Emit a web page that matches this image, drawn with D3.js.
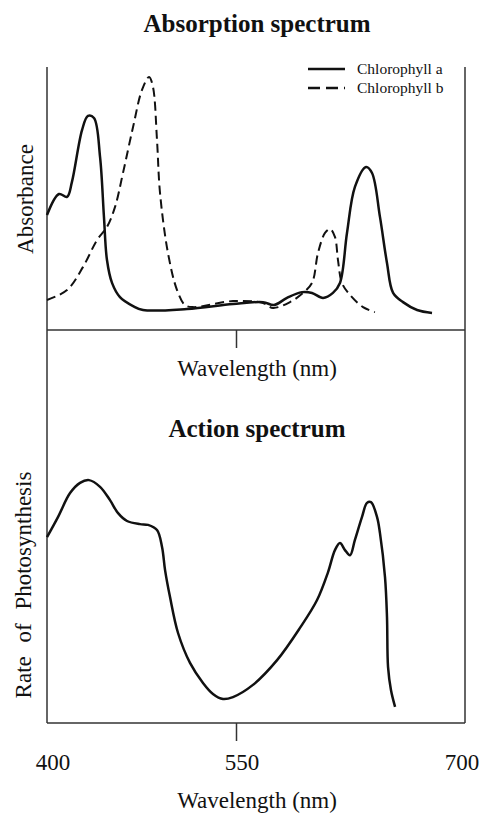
<!DOCTYPE html>
<html>
<head>
  <meta charset="utf-8">
  <script src="https://cdn.jsdelivr.net/npm/d3@7"></script>
  <style>
    body { margin: 0; background: #fff; }
    text { font-family: "Liberation Serif", "Times New Roman", serif; fill: #111; }
  </style>
</head>
<body>
<script>
  // wavelength (nm) and relative absorbance
  var chlAWave = [400, 409.5, 415.9, 419.8, 427.8, 432.5, 437.3, 442.1, 445.2, 447.6, 451.6, 457.9, 468.3, 476.2,
                  511.1, 547.6, 567.7, 574.9, 583.4, 593.2, 599.8, 607.0, 613.5, 618.1, 622.7, 627.9, 635.2,
                  639.1, 644.3, 648.9, 652.9, 659.4, 668.6, 678.4];
  var chlAAbs  = [0.437, 0.517, 0.506, 0.563, 0.760, 0.814, 0.806, 0.658, 0.430, 0.266, 0.179, 0.125, 0.091, 0.076,
                  0.080, 0.099, 0.106, 0.095, 0.122, 0.144, 0.141, 0.122, 0.141, 0.179, 0.369, 0.544, 0.620,
                  0.597, 0.430, 0.255, 0.141, 0.106, 0.076, 0.065];

  var chlBWave = [400, 415.9, 428.6, 439.7, 447.6, 454.0, 460.3, 468.3, 475.4, 481.0, 484.1, 487.3, 489.7, 496.0,
                  503.2, 509.5, 515.9, 547.6, 567.7, 574.2, 585.4, 593.9, 599.8, 603.7, 608.3, 611.6, 614.8,
                  616.8, 619.4, 624.7, 633.2, 641.0];
  var chlBAbs  = [0.114, 0.152, 0.240, 0.342, 0.392, 0.468, 0.597, 0.772, 0.913, 0.962, 0.924, 0.722, 0.521, 0.293,
                  0.152, 0.095, 0.087, 0.110, 0.103, 0.084, 0.106, 0.141, 0.179, 0.293, 0.369, 0.384, 0.354,
                  0.266, 0.179, 0.133, 0.087, 0.068];

  // action spectrum: rate of photosynthesis (relative)
  var actWave = [400, 408.7, 418.3, 426.2, 433.3, 442.1, 450.0, 456.4, 463.5, 473.8, 480.2, 487.3, 491.3, 493.7,
                 497.6, 504.0, 513.5, 523.8, 531.7, 539.7, 547.6, 561.1, 576.9, 591.9, 603.1, 610.3, 614.8,
                 618.1, 621.4, 624.7, 627.9, 632.5, 635.8, 638.4, 642.4, 644.3, 647.6, 648.9, 649.6, 651.5, 654.2];
  var actRate = [0.473, 0.524, 0.585, 0.611, 0.618, 0.601, 0.567, 0.534, 0.514, 0.506, 0.504, 0.491, 0.448, 0.389,
                 0.321, 0.229, 0.153, 0.102, 0.074, 0.061, 0.066, 0.097, 0.160, 0.242, 0.313, 0.384, 0.440,
                 0.458, 0.440, 0.427, 0.466, 0.524, 0.560, 0.562, 0.524, 0.483, 0.371, 0.270, 0.142, 0.084, 0.041];

  var tickLabels = [400, 550, 700];
  var seriesNames = ["Chlorophyll a", "Chlorophyll b"];

  var W = 482, H = 814;
  var left = 47, right = 465;
  var topY = 67, midY = 330, botY = 723;

  var svg = d3.select("body").append("svg")
      .attr("width", W)
      .attr("height", H);

  // the printed axis is not evenly spaced, so 550 sits left of centre
  var x = d3.scaleLinear().domain([400, 550, 700]).range([left, 236, right]);
  var yAbs = d3.scaleLinear().domain([0, 1]).range([midY, topY]);
  var yAct = d3.scaleLinear().domain([0, 1]).range([botY, midY]);

  var zip = function(a, b) { return a.map(function(v, i) { return [v, b[i]]; }); };

  var lineAbs = d3.line()
      .x(function(d) { return x(d[0]); })
      .y(function(d) { return yAbs(d[1]); })
      .curve(d3.curveCatmullRom.alpha(0.5));
  var lineAct = d3.line()
      .x(function(d) { return x(d[0]); })
      .y(function(d) { return yAct(d[1]); })
      .curve(d3.curveCatmullRom.alpha(0.5));

  // frame: two sides, the divider and the bottom
  var frame = svg.append("g").attr("stroke", "#333").attr("stroke-width", 1.5).attr("fill", "none");
  frame.append("line").attr("x1", left).attr("x2", left).attr("y1", topY).attr("y2", botY);
  frame.append("line").attr("x1", right).attr("x2", right).attr("y1", topY).attr("y2", botY);

  var tickAxis = d3.axisBottom(x).tickValues([550]).tickSize(18).tickFormat("");
  [midY, botY].forEach(function(yy) {
    var g = svg.append("g").attr("transform", "translate(0," + yy + ")").call(tickAxis);
    g.select(".domain").remove();
    g.selectAll(".tick line").attr("stroke", "#333").attr("stroke-width", 1.5);
    frame.append("line").attr("x1", left).attr("x2", right).attr("y1", yy).attr("y2", yy);
  });

  // curves
  svg.append("path").datum(zip(chlBWave, chlBAbs))
      .attr("d", lineAbs).attr("fill", "none").attr("stroke", "#111")
      .attr("stroke-width", 2).attr("stroke-dasharray", "9,5");
  svg.append("path").datum(zip(chlAWave, chlAAbs))
      .attr("d", lineAbs).attr("fill", "none").attr("stroke", "#111").attr("stroke-width", 2.5);
  svg.append("path").datum(zip(actWave, actRate))
      .attr("d", lineAct).attr("fill", "none").attr("stroke", "#111").attr("stroke-width", 2.5);

  // legend
  var leg = svg.append("g").attr("transform", "translate(308,69)");
  seriesNames.forEach(function(name, i) {
    var row = leg.append("g").attr("transform", "translate(0," + i * 19 + ")");
    row.append("line").attr("x1", 0).attr("x2", 37)
        .attr("stroke", "#111").attr("stroke-width", 2.5)
        .attr("stroke-dasharray", i ? "12,6" : null);
    row.append("text").attr("x", 49).attr("y", 5)
        .style("font-size", "15.5px").text(name);
  });

  // titles and labels
  svg.append("text").attr("x", 257).attr("y", 32).attr("text-anchor", "middle")
      .style("font-size", "25px").style("font-weight", "bold").text("Absorption spectrum");
  svg.append("text").attr("x", 257).attr("y", 437).attr("text-anchor", "middle")
      .style("font-size", "25px").style("font-weight", "bold").text("Action spectrum");

  svg.append("text").attr("x", 257).attr("y", 376).attr("text-anchor", "middle")
      .style("font-size", "23px").text("Wavelength (nm)");
  svg.append("text").attr("x", 257).attr("y", 808).attr("text-anchor", "middle")
      .style("font-size", "23px").text("Wavelength (nm)");

  svg.append("text").attr("transform", "translate(33,199) rotate(-90)").attr("text-anchor", "middle")
      .style("font-size", "23px").text("Absorbance");
  svg.append("text").attr("transform", "translate(31,585) rotate(-90)").attr("text-anchor", "middle")
      .style("font-size", "23px").style("word-spacing", "8px").text("Rate of Photosynthesis");

  svg.selectAll(".ticklab").data(tickLabels).enter().append("text")
      .attr("class", "ticklab")
      .attr("x", function(d) { return Math.min(x(d) + 6, W - 20); })
      .attr("y", 770)
      .attr("text-anchor", "middle")
      .style("font-size", "23px")
      .text(function(d) { return d; });
</script>
</body>
</html>
